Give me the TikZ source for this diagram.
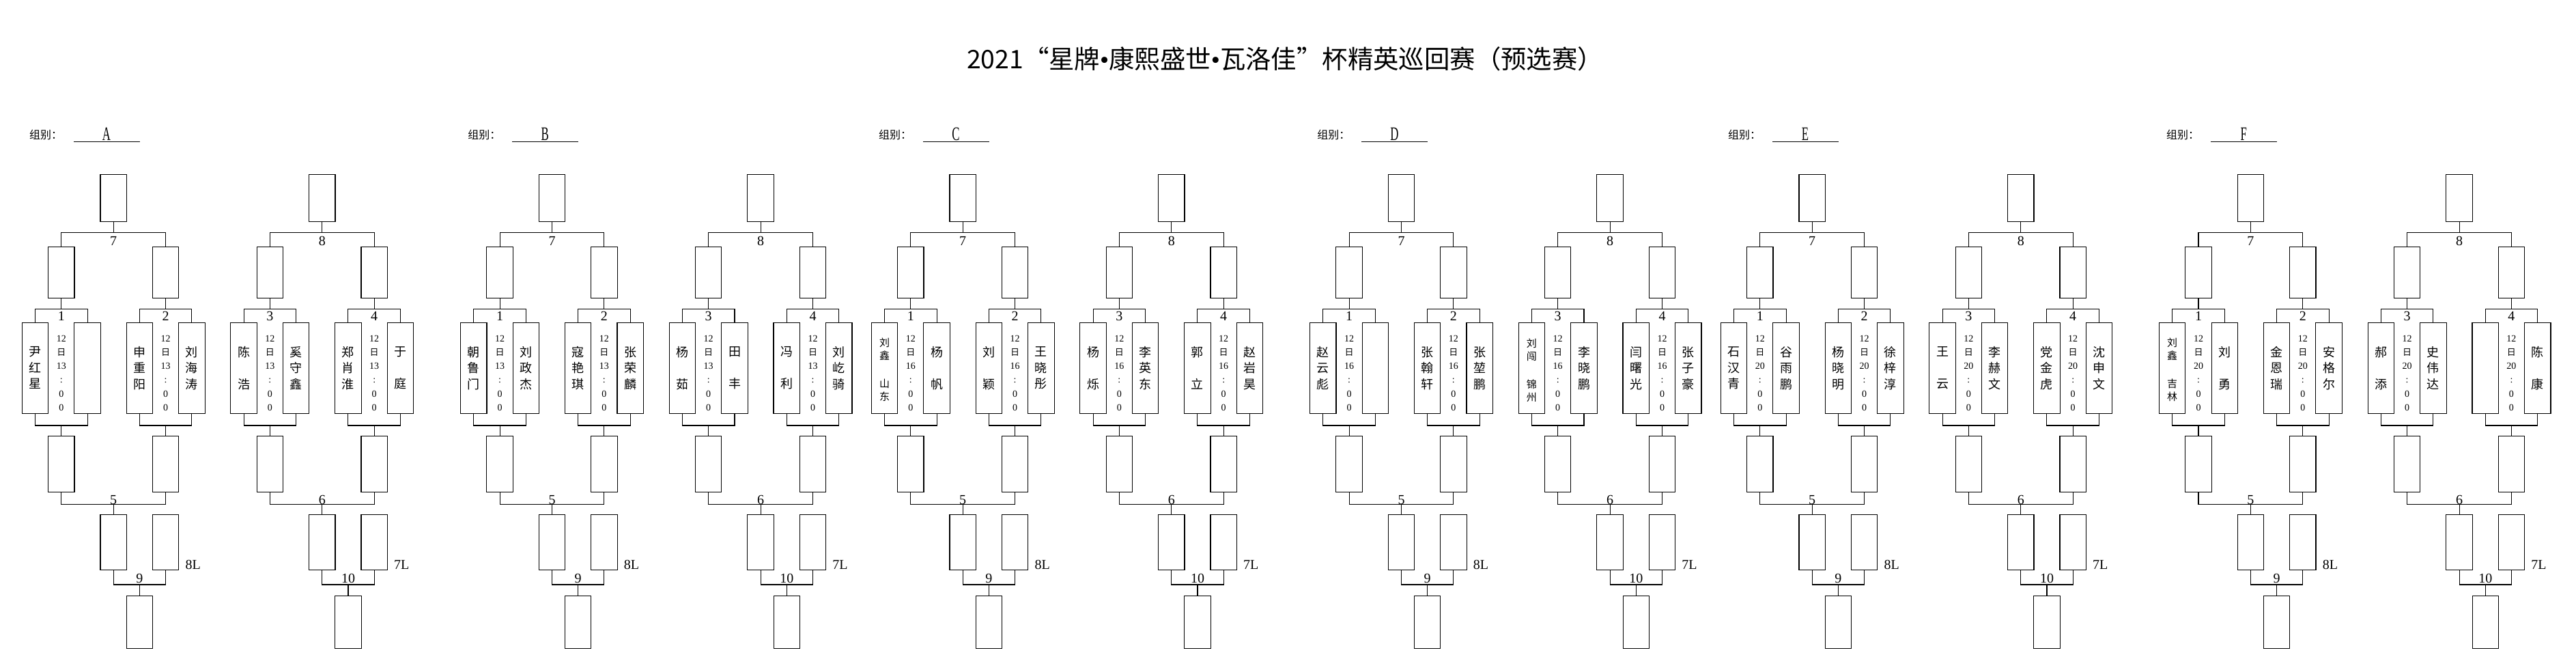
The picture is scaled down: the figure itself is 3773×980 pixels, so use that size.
\documentclass[tikz,border=0pt]{standalone}
\usepackage{fontspec}
\setmainfont{Liberation Serif}
\newfontfamily\cjk{Noto Sans CJK SC}
\newcommand\gap{\phantom{口}}
\newcommand\ri{{\cjk\fontsize{6.5}{10.05}\selectfont 日}}
\newcommand\dotsep{{\rmfamily •}}

\begin{document}
\begin{tikzpicture}[x=0.5pt, y=-0.5pt, line width=0.55pt,
  slot/.style={draw, inner sep=0pt, minimum width=19.2pt, minimum height=#1},
  num/.style={inner sep=0pt, font=\fontsize{10}{10}\selectfont},
  who/.style={inner sep=0pt, align=center, font=\cjk\fontsize{9}{11.75}\selectfont},
  whosm/.style={inner sep=0pt, align=center, font=\cjk\fontsize{7.5}{9.5}\selectfont},
  when/.style={inner sep=0pt, align=center, font=\fontsize{7}{10.05}\selectfont}]
  \useasboundingbox (0,0) rectangle (3773,980);
  % title
  \node[font=\cjk\fontsize{18.7}{18.7}\selectfont] (title) at (1882,86)
    {2021“星牌\dotsep 康熙盛世\dotsep 瓦洛佳”杯精英巡回赛（预选赛）};
  % six groups, two halves each
  \foreach \g/\gx/\hr in {A/0/13, B/642.3/13, C/1244/16, D/1886.3/16, E/2488/20, F/3130.2/20} {
    \begin{scope}[shift={(\gx,0)}]
      \node[font=\cjk\fontsize{8}{8}\selectfont] (\g-head) at (67,197) {组别：};
      \node[font=\fontsize{14}{14}\selectfont] (\g-name) at (156,196) {\scalebox{0.6}[1]{\g}};
      \draw[line width=0.5pt] (108,207) -- (205,207);
      \foreach \h/\hx/\mw/\ma/\mb/\ml/\mf/\lost in {1/0/7/1/2/5/9/8L, 2/305.6/8/3/4/6/10/7L} {
        \begin{scope}[shift={(\hx,0)}]
          \node[slot=34.65pt, anchor=north] (\g\h-top) at (166.2,255) {};
          \node[slot=37.5pt, anchor=north] (\g\h-wa) at (89.8,361.3) {};
          \node[slot=37.5pt, anchor=north] (\g\h-wb) at (242.6,361.3) {};
          \node[slot=66.65pt, anchor=north] (\g\h-pa1) at (51.5,471.7) {};
          \node[slot=66.65pt, anchor=north] (\g\h-pb1) at (128.1,471.7) {};
          \node[slot=66.65pt, anchor=north] (\g\h-pa2) at (204.3,471.7) {};
          \node[slot=66.65pt, anchor=north] (\g\h-pb2) at (280.9,471.7) {};
          \node[slot=41pt, anchor=north] (\g\h-ra) at (89.8,638.3) {};
          \node[slot=41pt, anchor=north] (\g\h-rb) at (242.6,638.3) {};
          \node[slot=40.5pt, anchor=north] (\g\h-qa) at (166.2,753.3) {};
          \node[slot=40.5pt, anchor=north] (\g\h-qb) at (242.6,753.3) {};
          \node[slot=38.65pt, anchor=north] (\g\h-fin) at (204.4,871.7) {};
          % brackets
          \draw (\g\h-top.south) -- ++(0,15) coordinate (\g\h-barw)
                (\g\h-wa.north) |- (\g\h-barw) -| (\g\h-wb.north);
          \draw (\g\h-wa.south) -- ++(0,15) coordinate (\g\h-bara)
                (\g\h-pa1.north) |- (\g\h-bara) -| (\g\h-pb1.north);
          \draw (\g\h-wb.south) -- ++(0,15) coordinate (\g\h-barb)
                (\g\h-pa2.north) |- (\g\h-barb) -| (\g\h-pb2.north);
          \draw (\g\h-ra.north) -- ++(0,-15.3) coordinate (\g\h-lowa)
                (\g\h-pa1.south) |- (\g\h-lowa) -| (\g\h-pb1.south);
          \draw (\g\h-rb.north) -- ++(0,-15.3) coordinate (\g\h-lowb)
                (\g\h-pa2.south) |- (\g\h-lowb) -| (\g\h-pb2.south);
          \draw (\g\h-qa.north) -- ++(0,-15) coordinate (\g\h-barl)
                (\g\h-ra.south) |- (\g\h-barl) -| (\g\h-rb.south);
          \draw (\g\h-fin.north) -- ++(0,-15.7) coordinate (\g\h-barf)
                (\g\h-qa.south) |- (\g\h-barf) -| (\g\h-qb.south);
          % match numbers
          \node[num] (\g\h-n\mw) at (166.2,352.7) {\mw};
          \node[num] (\g\h-n\ma) at (89.8,463) {\ma};
          \node[num] (\g\h-n\mb) at (242.6,463) {\mb};
          \node[num] (\g\h-n\ml) at (166.2,731.7) {\ml};
          \node[num] (\g\h-n\mf) at (204.4,847.3) {\mf};
          \node[num, anchor=west] (\g\h-lost) at (271,826.7) {\lost};
          % times
          \node[when] (\g\h-ta) at (89.8,546.3) {12\\\ri\\\hr\\:\\0\\0};
          \node[when] (\g\h-tb) at (242.6,546.3) {12\\\ri\\\hr\\:\\0\\0};
        \end{scope}
      }
    \end{scope}
  }
  % players
  \foreach \spot/\who in {
      A1-pa1/尹\\红\\星, A1-pa2/申\\重\\阳, A1-pb2/刘\\海\\涛,
      A2-pa1/陈\\\gap\\浩, A2-pb1/奚\\守\\鑫, A2-pa2/郑\\肖\\淮, A2-pb2/于\\\gap\\庭,
      B1-pa1/朝\\鲁\\门, B1-pb1/刘\\政\\杰, B1-pa2/寇\\艳\\琪, B1-pb2/张\\荣\\麟,
      B2-pa1/杨\\\gap\\茹, B2-pb1/田\\\gap\\丰, B2-pa2/冯\\\gap\\利, B2-pb2/刘\\屹\\骑,
      C1-pb1/杨\\\gap\\帆, C1-pa2/刘\\\gap\\颖, C1-pb2/王\\晓\\彤,
      C2-pa1/杨\\\gap\\烁, C2-pb1/李\\英\\东, C2-pa2/郭\\\gap\\立, C2-pb2/赵\\岩\\昊,
      D1-pa1/赵\\云\\彪, D1-pa2/张\\翰\\轩, D1-pb2/张\\堃\\鹏,
      D2-pb1/李\\晓\\鹏, D2-pa2/闫\\曙\\光, D2-pb2/张\\子\\豪,
      E1-pa1/石\\汉\\青, E1-pb1/谷\\雨\\鹏, E1-pa2/杨\\晓\\明, E1-pb2/徐\\梓\\淳,
      E2-pa1/王\\\gap\\云, E2-pb1/李\\赫\\文, E2-pa2/党\\金\\虎, E2-pb2/沈\\申\\文,
      F1-pb1/刘\\\gap\\勇, F1-pa2/金\\恩\\瑞, F1-pb2/安\\格\\尔,
      F2-pa1/郝\\\gap\\添, F2-pb1/史\\伟\\达, F2-pb2/陈\\\gap\\康}
    \node[who] (\spot-txt) at (\spot.center) {\who};
  \node[whosm] (C1-pa1-txt) at ([yshift=-1.2pt]C1-pa1.center) {刘\\鑫\\[11pt]山\\东};
  \node[whosm] (D2-pa1-txt) at ([yshift=-1.6pt]D2-pa1.center) {刘\\闯\\[11pt]锦\\州};
  \node[whosm] (F1-pa1-txt) at ([yshift=-1.2pt]F1-pa1.center) {刘\\鑫\\[11pt]吉\\林};
\end{tikzpicture}
\end{document}
